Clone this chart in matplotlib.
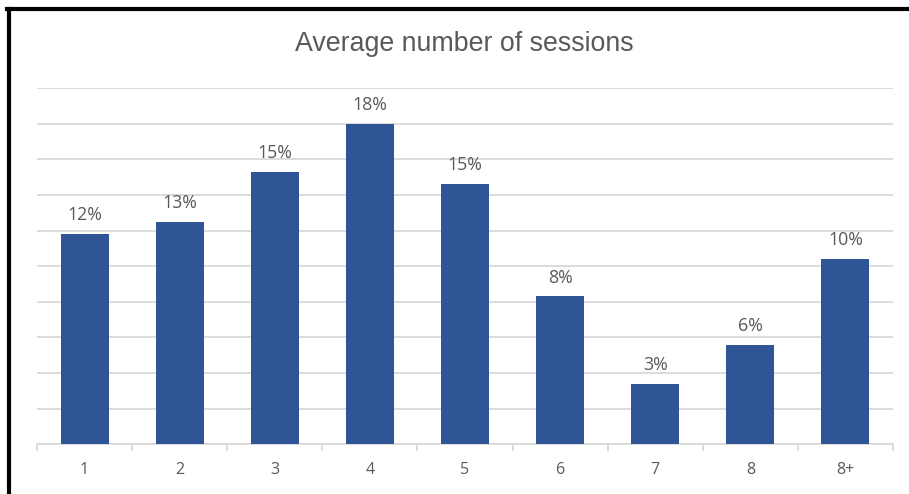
import matplotlib
matplotlib.use("Agg")
import matplotlib.pyplot as plt
from matplotlib.lines import Line2D
from matplotlib import font_manager

categories = ["1", "2", "3", "4", "5", "6", "7", "8", "8+"]
values = [11.8, 12.5, 15.3, 18.0, 14.6, 8.3, 3.4, 5.6, 10.4]
labels = ["12%", "13%", "15%", "18%", "15%", "8%", "3%", "6%", "10%"]
title = "Average number of sessions"

plt.rcParams['font.family'] = ['Open Sans', 'DejaVu Sans']
names = {f.name for f in font_manager.fontManager.ttflist}
title_font = ['Liberation Sans Narrow'] if 'Liberation Sans Narrow' in names else ['Liberation Sans']

W, H = 909, 494
fig = plt.figure(figsize=(W / 100, H / 100), dpi=100)
fig.patch.set_facecolor("white")

ax_left, ax_right, ax_bottom, ax_top = 37, 893, 444.3, 88
ax = fig.add_axes([ax_left / W, 1 - ax_bottom / H, (ax_right - ax_left) / W, (ax_bottom - ax_top) / H])

x = list(range(len(categories)))
bars = ax.bar(x, values, width=0.505, color="#2F5597", zorder=3)
ax.set_xlim(-0.5, len(categories) - 0.5)
ax.set_ylim(0, 20)

ax.set_yticks(range(0, 21, 2))
ax.yaxis.grid(True, color="#D9D9D9", linewidth=1.3, zorder=0)
ax.tick_params(axis="y", left=False, labelleft=False)
for s in ["left", "right", "top"]:
    ax.spines[s].set_visible(False)
ax.spines["bottom"].set_color("#D9D9D9")
ax.spines["bottom"].set_linewidth(1.3)

ax.set_xticks(x)
ax.set_xticklabels(categories, color="#595959", fontsize=11.5)
ax.tick_params(axis="x", length=0, pad=13)
ax.set_xticks([i - 0.5 for i in range(len(categories) + 1)], minor=True)
ax.tick_params(axis="x", which="minor", length=5, color="#D9D9D9", width=1.3)

for xi, v, lab in zip(x, values, labels):
    ax.annotate(lab, (xi, v), xytext=(0, 7), textcoords="offset points",
                ha="center", va="bottom", color="#595959", fontsize=12.8)

fig.text(464 / W, 1 - 44 / H, title, ha="center", va="center", fontsize=19.3,
         color="#595959", family=title_font + ['DejaVu Sans'])

fig.add_artist(Line2D([9 / W, 9 / W], [0, 1 - 9 / H], transform=fig.transFigure, color="black", linewidth=3))
fig.add_artist(Line2D([7.5 / W, 1], [1 - 9 / H, 1 - 9 / H], transform=fig.transFigure, color="black", linewidth=3))

fig.savefig("out.png", dpi=100, facecolor="white")
